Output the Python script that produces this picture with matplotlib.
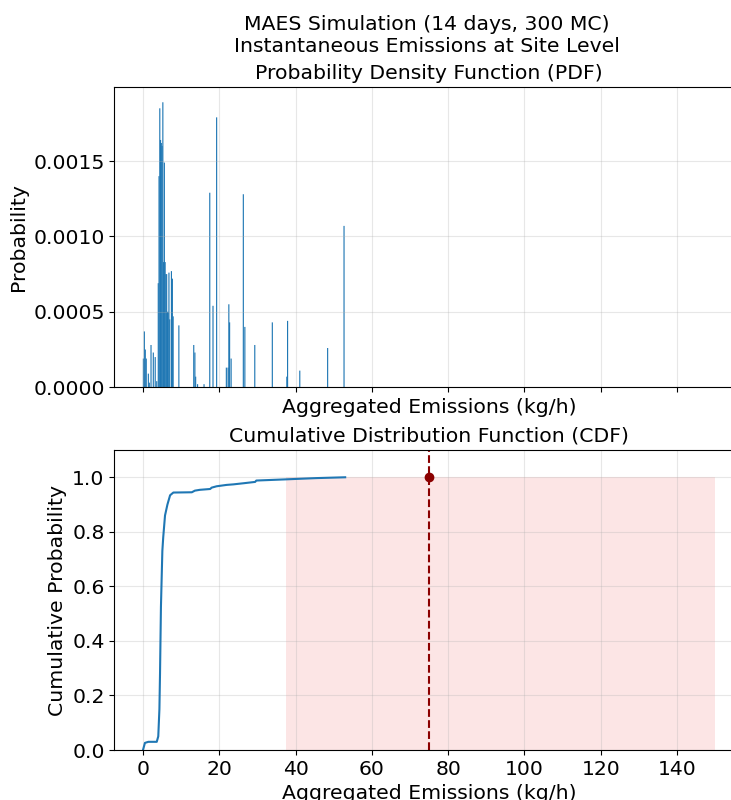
import matplotlib
matplotlib.use("Agg")
import matplotlib.pyplot as plt

# PDF bars (bin centre in kg/h, probability)
pdf_x = [0.1, 0.35, 0.6, 0.85, 1.4, 1.65, 2.1, 2.7, 3.2, 3.6,
         4.0, 4.2, 4.4, 4.6, 4.8, 5.0, 5.2, 5.4, 5.6, 5.8,
         6.0, 6.2, 6.4, 6.6, 6.8, 7.0, 7.45, 7.7, 7.9,
         9.4, 13.3, 13.6, 13.8, 14.3, 16.0, 17.5, 18.35, 19.3,
         21.85, 22.3, 22.5, 22.7, 23.1, 26.3, 26.7, 29.3, 33.9,
         37.7, 37.9, 41.1, 48.4, 52.7]
pdf_h = [0.00019, 0.00037, 0.00025, 0.00019, 0.00009, 0.00003, 0.00028, 0.00023, 0.00020, 0.00004,
         0.00069, 0.00140, 0.00185, 0.00164, 0.00162, 0.00160, 0.00189, 0.00083, 0.00149, 0.00083,
         0.00075, 0.00075, 0.00050, 0.00050, 0.00076, 0.00045, 0.00077, 0.00072, 0.00047,
         0.00041, 0.00028, 0.00023, 0.00007, 0.00002, 0.00002, 0.00129, 0.00054, 0.00179,
         0.00013, 0.00013, 0.00055, 0.00043, 0.00019, 0.00128, 0.00040, 0.00028, 0.00043,
         0.00007, 0.00044, 0.00011, 0.00026, 0.00107]

# CDF curve
cdf_x = [0.0, 0.5, 1.4, 3.6, 4.0, 4.3, 4.46, 4.7, 5.07, 5.3, 5.77, 6.4, 7.1, 7.95,
         12.8, 13.6, 14.9, 17.6, 18.0, 19.3, 21.9, 23.7, 26.3, 29.4, 29.7,
         36.8, 40.3, 45.5, 53.0]
cdf_y = [0.0, 0.026, 0.03, 0.03, 0.05, 0.15, 0.28, 0.525, 0.73, 0.78, 0.86, 0.90, 0.934, 0.944,
         0.945, 0.951, 0.954, 0.957, 0.962, 0.967, 0.972, 0.974, 0.978, 0.983, 0.988,
         0.992, 0.994, 0.997, 1.0]

# shaded band and threshold marker
band_lo, band_hi = 37.5, 150
threshold = 75
threshold_p = 1.0

fs = 14.7
plt.rcParams['font.size'] = fs

fig = plt.figure(figsize=(7.31, 8.0), dpi=100)
# axes run a little past the right edge, as in the cropped original
ax1 = fig.add_axes([0.1565, 0.516, 0.861, 0.375])
ax2 = fig.add_axes([0.1565, 0.0625, 0.861, 0.375], sharex=ax1)

ax1.bar(pdf_x, pdf_h, width=0.3, color='#1f77b4', linewidth=0, snap=False)
ax1.set_title('Probability Density Function (PDF)', fontsize=fs)
ax1.set_xlabel('Aggregated Emissions (kg/h)', fontsize=fs)
ax1.set_ylabel('Probability', fontsize=fs)
ax1.grid(True, alpha=0.3)
ax1.tick_params(labelbottom=False)
ax1.set_ylim(0, 0.00199)

ax2.fill_between([band_lo, band_hi], 0, 1, color='lightcoral', alpha=0.2, linewidth=0)
ax2.plot(cdf_x, cdf_y, color='#1f77b4', linewidth=1.5)
ax2.axvline(threshold, color='darkred', linestyle='--', linewidth=1.5)
ax2.plot(threshold, threshold_p, 'o', color='darkred', markersize=6)
ax2.set_title('Cumulative Distribution Function (CDF)', fontsize=fs)
ax2.set_xlabel('Aggregated Emissions (kg/h)', fontsize=fs)
ax2.set_ylabel('Cumulative Probability', fontsize=fs)
ax2.set_ylim(0, 1.1)
ax2.grid(True, alpha=0.3)
ax2.set_xlim(-7.5, 157.5)

fig.suptitle('MAES Simulation (14 days, 300 MC)\nInstantaneous Emissions at Site Level',
             fontsize=fs, x=0.584, y=0.981)

fig.savefig('out.png', dpi=100)
